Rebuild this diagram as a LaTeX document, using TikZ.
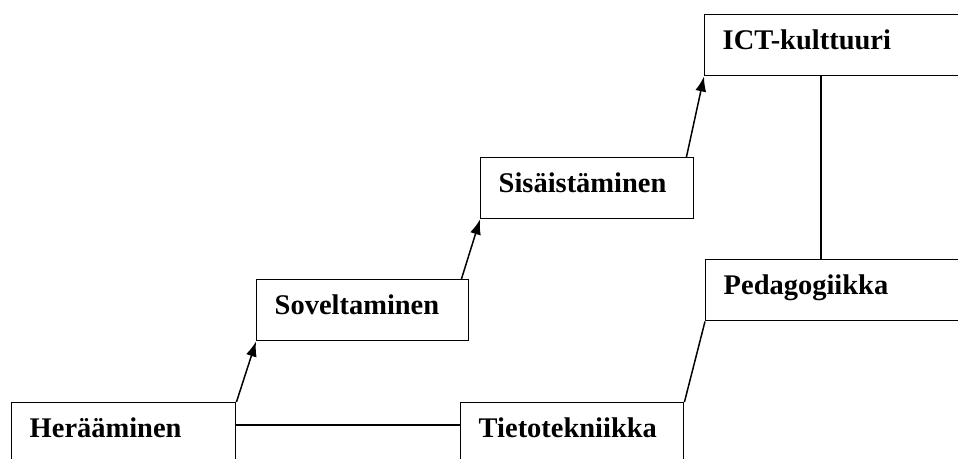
\documentclass[tikz,border=0pt]{standalone}
\usepackage{fontspec}
\setmainfont{Liberation Serif}
\usetikzlibrary{arrows.meta, calc}

\begin{document}
\begin{tikzpicture}[x=0.02cm, y=-0.02cm,
  stage/.style={draw, line width=0.85pt, anchor=north west, align=left,
    inner xsep=0.36cm, inner ysep=0pt, text height=0.7cm, text depth=0.52cm,
    font=\bfseries\fontsize{16.2}{19}\selectfont},
  link/.style={line width=0.85pt},
  up/.style={link, -{Latex[length=0.3cm, width=0.22cm]}}]
\useasboundingbox (0,0) rectangle (958,459);
\clip (0,0) rectangle (958,459);

% stages
\node[stage, text width=3.76cm] (her) at (11,402) {Herääminen};
\node[stage, text width=3.74cm] (tiet) at (460,402) {Tietotekniikka};
\node[stage, text width=3.52cm] (sov) at (256,279) {Soveltaminen};
\node[stage, text width=3.54cm] (sis) at (480,157) {Sisäistäminen};
\node[stage, text width=4.88cm] (ped) at (705,259) {Pedagogiikka};
\node[stage, text width=4.88cm] (ict) at (704,14) {ICT-kulttuuri};

% steps up
\draw[up] (her.north east) -- (sov.south west);
\draw[up] ($(sov.north east)+(-8,0)$) -- (sis.south west);
\draw[up] ($(sis.north east)+(-8,0)$) -- (ict.south west);

% other links
\draw[link] ($(her.north east)+(0,23)$) -- ($(tiet.north west)+(0,23)$);
\draw[link] (tiet.north east) -- (ped.south west);
\draw[link] ($(ict.south west)+(117,0)$) -- ($(ped.north west)+(116,0)$);

\end{tikzpicture}
\end{document}
